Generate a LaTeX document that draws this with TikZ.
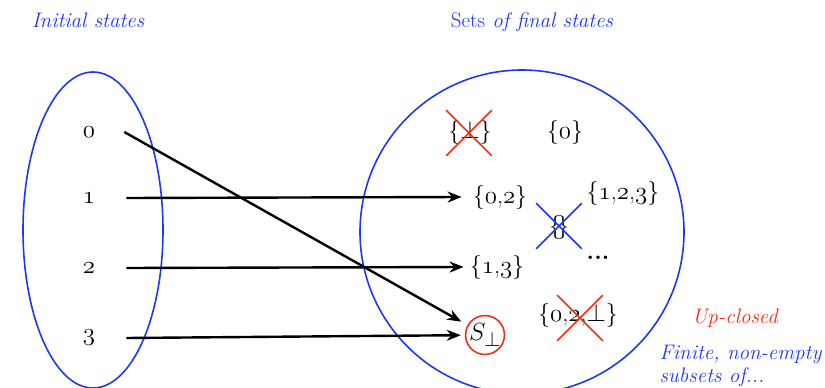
\documentclass[tikz,border=0pt]{standalone}
\usepackage{fontspec}
\usetikzlibrary{arrows.meta,shapes.misc}
\definecolor{setblue}{RGB}{30,55,245}
\definecolor{xred}{RGB}{245,45,20}
\newcommand{\osn}[1]{{\usefont{OML}{lmm}{m}{it}#1}}
\begin{document}
\begin{tikzpicture}[x=1pt,y=-1pt,
  lbl/.style={font=\fontsize{24}{28}\selectfont, inner sep=1pt},
  ttl/.style={font=\fontsize{21}{23}\selectfont\itshape, text=setblue},
  map/.style={-{Stealth[length=14pt,width=11pt]}, line width=2.4pt},
  xout/.style={cross out, line width=1.6pt, minimum width=44pt, minimum height=44pt}]
\useasboundingbox (0,0) rectangle (825,388);
\draw[setblue, line width=1.6pt] (93,230) ellipse [x radius=70, y radius=158];
\draw[setblue, line width=1.6pt] (522,232) circle (162);
\node[ttl] (tinit) at (88,20) {Initial states}; \node[ttl] (tfinal) at (532,22) {{\upshape Sets} of final states};
\node[ttl, text=xred] (tup) at (735,318) {Up-closed}; \node[ttl, align=left, anchor=west] (tfin) at (656,366) {Finite, non-empty\\subsets of...};
% initial states
\node[lbl] (s0) at (89,132) {\osn{0}}; \node[lbl] (s1) at (89,198) {\osn{1}}; \node[lbl] (s2) at (89,268) {\osn{2}}; \node[lbl] (s3) at (89,338) {\osn{3}};
% sets of final states
\node[lbl] (fb) at (470,132) {\{$\bot$\}}; \node[xout, draw=xred] (xb) at (469,133) {};
\node[lbl] (f0) at (565,132) {\{\osn{0}\}};
\node[lbl] (f02) at (500,197) {\{\osn{0},\osn{2}\}}; \node[lbl] (f123) at (623,193) {\{\osn{1},\osn{2},\osn{3}\}};
\node[lbl] (fe) at (559,227) {\{\!\}}; \node[xout, draw=setblue] (xe) at (559,226) {};
\node[lbl, anchor=base] (fd) at (598,259) {\textbf{...}};
\node[lbl] (f13) at (497,267) {\{\osn{1},\osn{3}\}};
\node[lbl] (f02b) at (578,315) {\{\osn{0},\osn{2},$\bot$\}}; \node[xout, draw=xred] (xb2) at (580,318) {};
\node[lbl, font=\fontsize{28}{30}\selectfont, circle, draw=xred, line width=1.6pt, minimum size=36pt, inner sep=0pt] (fS) at (485,335) {$S_\bot$};
% the map
\draw[map, shorten >=7pt] ([xshift=28pt]s0.east) -- (fS);
\draw[map] ([xshift=30pt]s1.east) -- ([xshift=-10pt]f02.west);
\draw[map] ([xshift=30pt]s2.east) -- ([xshift=-5pt]f13.west);
\draw[map, shorten >=4pt] ([xshift=30pt]s3.east) -- (fS);
\end{tikzpicture}
\end{document}
